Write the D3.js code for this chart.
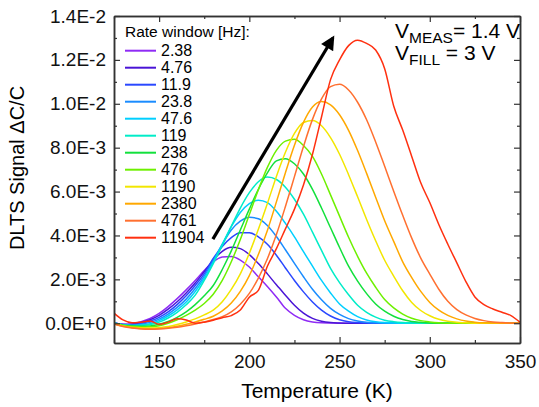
<!DOCTYPE html>
<meta charset="utf-8">
<style>
  body { margin: 0; background: #fff; }
  svg { font-family: "Liberation Sans", Arial, sans-serif; }
  .axis path, .axis line { stroke: #333; }
  .axis path { stroke-width: 1.5; }
  .axis line { stroke-width: 1.2; }
  .axis text { font-size: 19px; fill: #111; }
</style>
<svg width="539" height="407"></svg>
<script src="https://d3js.org/d3.v7.min.js"></script>
<script>

// temperature grid (K), signals in units of 1E-3
var temps = [125,130,135,140,145,150,155,160,165,170,175,180,185,190,195,200,205,210,215,220,
  225,230,235,240,245,250,255,260,265,270,275,280,285,290,295,300,305,310,315,320,
  325,330,335,340,345,350];

var rateWindows = ["2.38","4.76","11.9","23.8","47.6","119","238","476","1190","2380","4761","11904"];
var colors = ["#8f2bf5","#4a14d6","#2a48ff","#1a8cff","#00cfff","#00ecc8","#12e03c","#6ef000","#f2e600","#ffa800","#ff7030","#ff3010"];

var s2_38 = [0.02,-0.05,-0.03,0.07,0.22,0.45,0.76,1.12,1.52,1.95,
  2.4,2.8,3.02,3.04,2.88,2.56,2.12,1.68,1.2,0.68,
  0.36,0.16,0.06,0.02,0.01,0,0,0,0,0,
  0,0,0,0,0,0,0,0,0,0,
  0,0,0,0,0,0];
var s4_76 = [0.02,-0.06,-0.05,0.03,0.16,0.36,0.64,0.98,1.38,1.83,
  2.35,2.88,3.28,3.46,3.4,3.13,2.72,2.25,1.75,1.28,
  0.82,0.46,0.22,0.09,0.03,0.01,0,0,0,0,
  0,0,0,0,0,0,0,0,0,0,
  0,0,0,0,0,0];
var s11_9 = [0.02,-0.06,-0.07,-0.01,0.1,0.27,0.52,0.85,1.25,1.72,
  2.25,2.95,3.5,3.9,4.12,4.12,3.94,3.6,3.1,2.52,
  1.95,1.43,0.97,0.6,0.33,0.16,0.07,0.03,0.01,0,
  0,0,0,0,0,0,0,0,0,0,
  0,0,0,0,0,0];
var s23_8 = [0.01,-0.07,-0.09,-0.05,0.04,0.19,0.42,0.72,1.1,1.58,
  2.15,2.85,3.6,4.25,4.65,4.83,4.76,4.45,3.95,3.35,
  2.73,2.12,1.55,1.07,0.68,0.4,0.21,0.1,0.04,0.02,
  0,0,0,0,0,0,0,0,0,0,
  0,0,0,0,0,0];
var s47_6 = [0.01,-0.08,-0.1,-0.08,-0.02,0.12,0.33,0.61,0.97,1.45,
  2.05,2.78,3.6,4.4,5.05,5.45,5.61,5.5,5.1,4.55,
  3.94,3.26,2.6,1.95,1.38,0.88,0.55,0.3,0.15,0.07,
  0.03,0.01,0,0,0,0,0,0,0,0,
  0,0,0,0,0,0];
var s119 = [0.01,-0.08,-0.11,-0.1,-0.06,0.05,0.24,0.5,0.84,1.28,
  1.95,2.72,3.55,4.42,5.25,5.95,6.45,6.66,6.55,6.2,
  5.65,4.97,4.15,3.32,2.5,1.85,1.3,0.82,0.5,0.28,
  0.14,0.07,0.03,0.01,0,0,0,0,0,0,
  0,0,0,0,0,0];
var s238 = [0,-0.09,-0.13,-0.14,-0.12,-0.05,0.08,0.27,0.52,0.85,
  1.25,1.72,2.45,3.3,4.25,5.2,6.1,6.85,7.4,7.5,
  7.27,6.8,6.1,5.25,4.35,3.45,2.6,1.92,1.35,0.88,
  0.55,0.32,0.17,0.08,0.04,0.01,0,0,0,0,
  0,0,0,0,0,0];
var s476 = [0,-0.1,-0.15,-0.17,-0.16,-0.11,0,0.16,0.36,0.6,
  0.9,1.32,1.95,2.8,3.82,4.95,6.08,7.1,7.88,8.3,
  8.38,8.1,7.6,6.8,5.85,4.88,3.92,3.05,2.28,1.64,
  1.08,0.7,0.42,0.23,0.12,0.06,0.02,0,0,0,
  0,0,0,0,0,0];
var s1190 = [-0.02,-0.12,-0.18,-0.21,-0.22,-0.2,-0.15,-0.06,0.06,0.2,
  0.38,0.6,0.98,1.54,2.25,3.19,4.28,5.46,6.69,7.79,
  8.65,9.15,9.24,9.0,8.46,7.7,6.77,5.76,4.73,3.76,
  2.87,2.15,1.48,0.95,0.58,0.34,0.18,0.09,0.04,0.02,
  0,0,0,0,0,0];
var s2380 = [-0.03,-0.14,-0.2,-0.24,-0.25,-0.24,-0.2,-0.14,-0.05,0.06,
  0.18,0.32,0.56,0.92,1.45,2.17,3.13,4.23,5.53,6.86,
  8.11,9.15,9.85,10.1,9.95,9.5,8.79,7.87,6.83,5.74,
  4.67,3.73,2.8,2.08,1.45,0.95,0.6,0.36,0.2,0.1,
  0.05,0.02,0.01,0,0,0];
var s4761 = [-0.03,-0.15,-0.22,-0.26,-0.27,-0.26,-0.23,-0.18,-0.11,-0.03,
  0.06,0.17,0.3,0.52,0.87,1.36,2.06,2.94,4.04,5.32,
  6.68,8.05,9.29,10.22,10.78,10.89,10.63,10.07,9.27,8.26,
  7.15,6.02,4.92,3.88,2.97,2.24,1.55,1.0,0.62,0.38,
  0.22,0.12,0.06,0.03,0.01,0];
var s11904 = [0.46,0.15,0.02,0.05,0.1,-0.05,0.05,0.2,0.15,0.0,
  0.05,0.14,0.25,0.35,0.6,1.19,1.5,2.6,3.4,4.3,
  5.2,6.3,7.7,9.4,11.1,12.0,12.65,12.9,12.75,12.45,
  11.6,9.9,8.8,7.6,6.4,5.5,4.5,3.6,2.75,1.9,
  1.2,0.85,0.65,0.5,0.35,0.05];

var signals = [s2_38,s4_76,s11_9,s23_8,s47_6,s119,s238,s476,s1190,s2380,s4761,s11904];

var xMajor = [150,200,250,300,350];
var xMinor = [125,175,225,275,325];
var yMajor = [0,0.002,0.004,0.006,0.008,0.010,0.012,0.014];
var yMinor = [0.001,0.003,0.005,0.007,0.009,0.011,0.013];

// arrow from low to high rate window (data coords)
var arrowFrom = [179.8, 3.83e-3], arrowTo = [246.3, 13.0e-3];

var svg = d3.select("svg");

var x = d3.scaleLinear().domain([125, 350]).range([114, 520]);
var y = d3.scaleLinear().domain([-0.0009, 0.014]).range([343, 16]);

svg.append("clipPath").attr("id", "clip")
  .append("rect").attr("x", 114).attr("y", 16).attr("width", 406).attr("height", 327);

var line = d3.line()
  .x(function(d) { return x(d[0]); })
  .y(function(d) { return y(d[1] * 1e-3); })
  .curve(d3.curveMonotoneX);

svg.append("g").attr("clip-path", "url(#clip)")
  .selectAll("path")
  .data(signals)
  .enter().append("path")
    .attr("d", function(s) { return line(s.map(function(v, i) { return [temps[i], v]; })); })
    .attr("fill", "none")
    .attr("stroke", function(d, i) { return colors[i]; })
    .attr("stroke-width", 1.5);

// axes, ticks pointing in, mirrored on top and right
var fmtY = function(d) { return d3.format(".1e")(d).toUpperCase(); };

svg.append("g").attr("class", "axis").attr("transform", "translate(0,343)")
  .call(d3.axisBottom(x).tickValues(xMajor).tickSize(-6).tickSizeOuter(0).tickPadding(11.5));
svg.append("g").attr("class", "axis").attr("transform", "translate(0,343)")
  .call(d3.axisBottom(x).tickValues(xMinor).tickSize(-3).tickSizeOuter(0).tickFormat(""));
svg.append("g").attr("class", "axis").attr("transform", "translate(0,16)")
  .call(d3.axisTop(x).tickValues(xMajor).tickSize(-6).tickSizeOuter(0).tickFormat(""));
svg.append("g").attr("class", "axis").attr("transform", "translate(0,16)")
  .call(d3.axisTop(x).tickValues(xMinor).tickSize(-3).tickSizeOuter(0).tickFormat(""));

svg.append("g").attr("class", "axis").attr("transform", "translate(114,0)")
  .call(d3.axisLeft(y).tickValues(yMajor).tickSize(-6).tickSizeOuter(0).tickPadding(8).tickFormat(fmtY));
svg.append("g").attr("class", "axis").attr("transform", "translate(114,0)")
  .call(d3.axisLeft(y).tickValues(yMinor).tickSize(-3).tickSizeOuter(0).tickFormat(""));
svg.append("g").attr("class", "axis").attr("transform", "translate(520,0)")
  .call(d3.axisRight(y).tickValues(yMajor).tickSize(-6).tickSizeOuter(0).tickFormat(""));
svg.append("g").attr("class", "axis").attr("transform", "translate(520,0)")
  .call(d3.axisRight(y).tickValues(yMinor).tickSize(-3).tickSizeOuter(0).tickFormat(""));

// axis titles
svg.append("text")
  .attr("x", 317).attr("y", 398)
  .attr("text-anchor", "middle")
  .style("font-size", "21px")
  .text("Temperature (K)");

svg.append("text")
  .attr("transform", "translate(24,168) rotate(-90)")
  .attr("text-anchor", "middle")
  .style("font-size", "20px")
  .text("DLTS Signal \u0394C/C");

// legend
var legend = svg.append("g");
legend.append("text")
  .attr("x", 125).attr("y", 37)
  .style("font-size", "15.5px")
  .text("Rate window [Hz]:");

var row = legend.selectAll(".row")
  .data(rateWindows)
  .enter().append("g")
    .attr("class", "row")
    .attr("transform", function(d, i) { return "translate(0," + (50.7 + 17 * i) + ")"; });
row.append("line")
  .attr("x1", 125).attr("x2", 156)
  .attr("stroke", function(d, i) { return colors[i]; })
  .attr("stroke-width", 2);
row.append("text")
  .attr("x", 161).attr("dy", "0.36em")
  .style("font-size", "16px")
  .text(function(d) { return d; });

// arrow
svg.append("defs").append("marker")
  .attr("id", "head")
  .attr("viewBox", "0 0 10 10")
  .attr("refX", 8).attr("refY", 5)
  .attr("markerUnits", "userSpaceOnUse")
  .attr("markerWidth", 20).attr("markerHeight", 14)
  .attr("orient", "auto")
  .append("path").attr("d", "M0,0L10,5L0,10z").attr("fill", "#000");

svg.append("line")
  .attr("x1", x(arrowFrom[0])).attr("y1", y(arrowFrom[1]))
  .attr("x2", x(arrowTo[0])).attr("y2", y(arrowTo[1]))
  .attr("stroke", "#000").attr("stroke-width", 3.2)
  .attr("marker-end", "url(#head)");

// measurement conditions
var v1 = svg.append("text").attr("x", 395).attr("y", 38).style("font-size", "21px");
v1.append("tspan").text("V");
v1.append("tspan").attr("dy", 5).style("font-size", "15.5px").text("MEAS");
v1.append("tspan").attr("dy", -5).text("= 1.4 V");

var v2 = svg.append("text").attr("x", 395).attr("y", 60).style("font-size", "21px");
v2.append("tspan").text("V");
v2.append("tspan").attr("dy", 5).style("font-size", "15.5px").text("FILL");
v2.append("tspan").attr("dy", -5).text(" = 3 V");

</script>
